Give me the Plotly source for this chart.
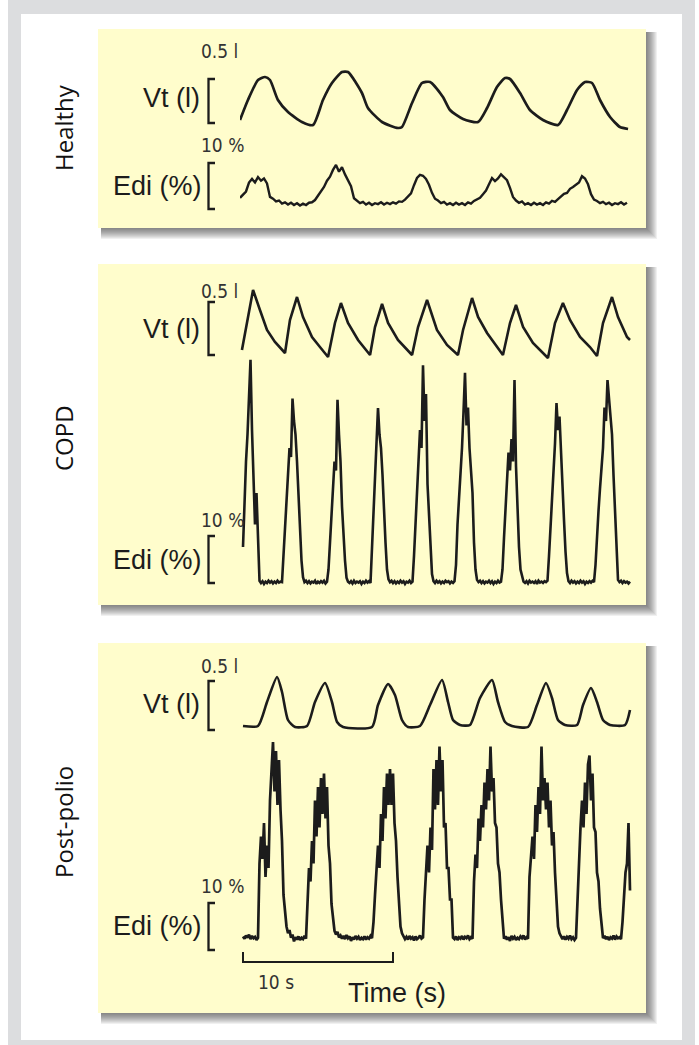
import numpy as np
import plotly.graph_objects as go

# ---------------- data (time in s, Vt in litres, Edi in %) ----------------
healthy_vt_t = [0.0, 0.53, 1.2, 1.67, 2.0, 2.53, 3.2, 4.13, 4.87, 5.53, 6.13, 6.8, 7.2, 8.13, 8.53,
                9.47, 10.53, 10.8, 11.47, 12.13, 12.67, 13.53, 14.0, 14.87, 15.87, 16.47, 17.13, 17.67,
                18.0, 18.67, 19.33, 20.2, 21.2, 21.8, 22.47, 23.0, 23.47, 24.0, 24.67, 25.33, 25.87]
healthy_vt_v = [0.10, 0.30, 0.50, 0.53, 0.50, 0.30, 0.18, 0.08, 0.05, 0.30, 0.47, 0.58, 0.58, 0.37, 0.22,
                0.08, 0.02, 0.03, 0.27, 0.47, 0.48, 0.33, 0.20, 0.11, 0.08, 0.22, 0.43, 0.52,
                0.51, 0.37, 0.20, 0.10, 0.05, 0.20, 0.40, 0.48, 0.47, 0.30, 0.13, 0.03, 0.01]

healthy_edi_t0, healthy_edi_dt = 0.0, 0.2
healthy_edi_v = [1.6, 2.2, 3.0, 5.0, 5.8, 5.0, 6.2, 5.4, 5.9, 4.8,
                 1.8, 1.4, 0.8, 1.0, 0.3, 0.6, 0.1, 0.5, 0.0, 0.4,
                 -0.1, 0.3, 0.0, 0.5, 0.6, 1.1, 2.0, 3.0, 4.0, 5.4,
                 6.3, 7.8, 8.9, 7.4, 8.4, 6.8, 5.6, 4.2, 1.5, 0.9,
                 0.4, 0.7, 0.1, 0.5, 0.0, 0.4, 0.2, 0.6, 0.1, 0.5,
                 0.2, 0.6, 0.3, 0.8, 0.7, 1.2, 1.8, 2.6, 4.4, 6.0,
                 6.7, 6.5, 5.8, 4.5, 2.7, 1.4, 1.0, 0.4, 0.7, 0.1,
                 0.4, 0.0, 0.5, 0.1, 0.4, 0.0, 0.6, 0.3, 0.9, 1.2,
                 1.6, 2.4, 3.2, 4.6, 6.0, 5.3, 5.9, 6.8, 6.2, 5.5,
                 3.8, 1.8, 1.0, 0.5, 0.8, 0.1, 0.4, 0.0, 0.5, 0.1,
                 0.4, 0.0, 0.6, 0.3, 0.9, 0.7, 1.3, 1.8, 2.5, 2.7,
                 3.6, 4.0, 4.6, 5.0, 6.4, 5.9, 4.6, 2.4, 1.2, 0.9,
                 0.4, 0.7, 0.2, 0.5, 0.0, 0.4, 0.2, 0.6, 0.1, 0.5]

copd_vt_t = [0.13, 0.87, 1.33, 1.8, 2.33, 3.0, 3.33, 3.8, 4.2, 4.8, 5.33, 5.87, 6.33, 6.73, 7.2,
             7.87, 8.67, 9.0, 9.47, 9.87, 10.53, 11.47, 11.87, 12.47, 13.13, 13.8, 14.53, 14.87,
             15.47, 15.87, 16.47, 17.13, 17.53, 18.0, 18.4, 18.87, 19.53, 20.53, 21.0, 21.53,
             22.0, 22.67, 23.33, 23.8, 24.2, 24.8, 25.2, 25.8, 26.0]
copd_vt_v = [0.08, 0.68, 0.48, 0.28, 0.16, 0.05, 0.38, 0.61, 0.41, 0.21, 0.11, 0.01, 0.35, 0.55, 0.35,
             0.18, 0.03, 0.31, 0.54, 0.35, 0.18, 0.03, 0.31, 0.58, 0.28, 0.13, 0.03, 0.28,
             0.60, 0.41, 0.25, 0.11, 0.03, 0.35, 0.53, 0.31, 0.15, 0.0, 0.35, 0.55,
             0.38, 0.21, 0.11, 0.02, 0.35, 0.61, 0.41, 0.21, 0.18]

copd_edi_t0, copd_edi_dt = 0.2, 0.1
copd_edi_v = [
    8, 20, 27, 33, 42, 49.6, 34, 22, 13, 20, 11, 0.5,
    0.0, 0.4, -0.2, 0.3, 0.0, 0.5, 0.1, 0.4, -0.1, 0.3, 0.0, 0.5, 0.1, 0.3, 0.2,
    6, 14, 19, 24, 30, 28, 41, 36, 33, 27, 19, 11, 5, 1.3, 0.2,
    0.5, 0.0, 0.4, -0.1, 0.3, 0.1, 0.5, -0.2, 0.3, 0.0, 0.4, 0.1, 0.5, -0.1, 0.3,
    3, 9, 15, 21, 27, 25, 40.7, 33, 27, 17, 10, 5, 1.2, 0.3,
    0.0, 0.4, -0.1, 0.5, 0.0, 0.3, 0.1, 0.4, -0.2, 0.3, 0.0, 0.5, 0.1, 0.4, 0.0,
    8, 16, 21, 28, 38.9, 33, 30, 24, 15, 9, 3, 0.8,
    0.2, 0.5, 0.0, 0.4, -0.1, 0.3, 0.0, 0.5, 0.1, 0.4, -0.2, 0.3, 0.1, 0.5, 0.0, 0.3,
    6, 13, 19, 26, 34, 30, 48.4, 36, 42, 22, 15, 7, 2, 0.4,
    0.0, 0.5, 0.1, 0.4, -0.1, 0.3, 0.0, 0.5, 0.2, 0.4, -0.1, 0.3, 0.0, 0.4,
    4, 13, 18, 25, 30, 38, 46.7, 35, 39, 30, 25, 20, 9, 3, 0.7, 0.2,
    0.5, 0.0, 0.4, -0.1, 0.3, 0.1, 0.5, 0.0, 0.4, -0.2, 0.3, 0.0, 0.5, 0.1, 0.3,
    3, 10, 16, 24, 29, 25, 32, 27, 45.1, 26, 14, 8, 3, 1.2, 0.3,
    0.0, 0.4, -0.1, 0.5, 0.1, 0.3, 0.0, 0.4, -0.2, 0.5, 0.1, 0.3, 0.0, 0.4, 0.2, 0.5,
    6, 12, 21, 27, 31, 40, 34, 37, 28, 21, 14, 7, 2.2, 0.4,
    0.0, 0.5, 0.1, 0.4, -0.1, 0.3, 0.0, 0.5, 0.1, 0.4, -0.2, 0.3, 0.0, 0.4, 0.1, 0.5, 0.2,
    4, 11, 16, 21, 26, 30, 39, 36, 45.1, 41, 37, 33, 24, 15, 6, 0.7,
    0.2, 0.5, 0.0, 0.4, 0.1, 0.3, -0.1, 0.3]

polio_vt_t = [0.2, 1.2, 1.8, 2.47, 2.8, 3.2, 3.67, 4.47, 5.0, 5.67, 6.13, 6.47, 6.87, 8.8, 9.2,
              9.87, 10.33, 10.8, 11.2, 12.0, 12.67, 13.47, 13.87, 14.2, 14.67, 15.33, 16.0, 16.8,
              17.2, 17.67, 18.13, 19.2, 19.8, 20.4, 20.8, 21.2, 21.67, 22.47, 22.87, 23.4, 23.8,
              24.2, 24.67, 25.67, 26.0]
polio_vt_v = [0.01, 0.01, 0.25, 0.50, 0.35, 0.07, 0.0, 0.01, 0.25, 0.44, 0.25, 0.05, 0.0, 0.0, 0.22,
              0.43, 0.32, 0.07, 0.0, 0.01, 0.22, 0.47, 0.25, 0.07, 0.02, 0.02, 0.29, 0.47,
              0.25, 0.05, 0.01, 0.0, 0.22, 0.44, 0.29, 0.07, 0.02, 0.02, 0.22, 0.39, 0.25,
              0.07, 0.02, 0.02, 0.17]

polio_edi_t0, polio_edi_dt = 0.2, 0.1
polio_edi_v = [
    0.8, 0.3, 1.0, 0.5, 1.2, 0.2, 0.9, 0.4, 0.7, 0.0, 0.5,
    17, 23, 18, 26, 14, 21, 16, 31, 38, 44, 33, 42, 30, 40, 29, 22, 10, 6, 3, 1.5, 2.2, 0.5, 1.2,
    -0.3, 0.6, 0.1, 0.8, 0.0, 0.5, 0.2, 0.9, 0.3,
    10, 16, 13, 22, 17, 31, 23, 34, 25, 36, 28, 37, 27, 34, 21, 17, 8, 4, 2, 1.2, 1.8, 0.6, 1.0, 0.3,
    0.9, 0.2, 1.1, 0.4, 0.8, -0.2, 0.6, 0.1, 0.9, 0.3, 0.7, 0.0, 0.5, 0.2, 0.8, 0.1, 0.6, 0.3, 0.9, 0.4,
    4, 10, 16, 21, 16, 28, 22, 34, 27, 37, 30, 38, 30, 37, 26, 22, 14, 7, 3, 1.5, 0.8, 0.2,
    0.7, 0.1, 0.9, 0.3, 0.6, -0.1, 0.8, 0.2, 0.5, 1.0, 0.3, 0.6,
    9, 15, 21, 15, 25, 20, 38, 29, 40, 30, 43, 33, 40, 25, 26, 16, 16, 9, 9, 0.5,
    0.2, 0.8, 0.0, 0.6, 0.3, 0.9, 0.1, 0.7, 0.4, 1.0, 0.2, 0.6, 0.3,
    13, 19, 16, 27, 22, 30, 25, 35, 29, 38, 31, 43, 33, 36, 26, 25, 17, 15, 9, 4, 0.3,
    0.8, 0.1, 0.6, -0.2, 0.9, 0.3, 0.7, 0.0, 0.5, 0.2, 0.8, 0.4, 1.0, 0.1, 0.6, 0.3,
    14, 19, 23, 18, 30, 24, 34, 28, 43, 31, 36, 29, 35, 25, 31, 21, 24, 15, 9, 3, 1.5, 0.7, 0.2,
    0.8, 0.1, 0.7, 0.3, 1.0, 0.2, 0.6, 0.0, 0.5,
    10, 20, 25, 31, 25, 35, 28, 39, 41, 31, 37, 25, 24, 15, 13, 7, 3, 0.4,
    0.9, 0.2, 0.7, 0.0, 0.6, 0.3, 1.0, 0.1, 0.8, 0.4, 0.6, 0.2,
    4, 9, 15, 17, 26, 11]

panel_names = ["Healthy", "COPD", "Post-polio"]
vt_label = "Vt (l)"
edi_label = "Edi (%)"
vt_scale_text = "0.5 l"
edi_scale_text = "10 %"
time_scale_text = "10 s"
time_title = "Time (s)"
TIME_BAR_S = 10

# ---------------- geometry (pixels) ----------------
W, H = 699, 1045
INK = "#1c1c1c"
YELLOW = "#FFFDCC"
FRAME = "#DCDDDF"


def X(px):
    return px / W


def Y(py):
    return 1 - py / H


T0_PX = 240
PX_PER_S = 15.0
VT_PPU = 100.0     # px per litre
EDI_PPU = 4.5      # px per %
T_MAX = 26.4

panel_boxes = [(98, 29, 646, 228), (98, 264, 646, 605), (98, 643, 646, 1013)]

# (base px of zero, top px, bottom px, px per unit)
yspecs = [
    (130, 50, 140, VT_PPU),
    (205, 150, 215, EDI_PPU),
    (358, 275, 365, VT_PPU),
    (583, 335, 592, EDI_PPU),
    (727, 655, 735, VT_PPU),
    (940, 720, 950, EDI_PPU),
]


def grid(t0, dt, vals):
    return list(t0 + dt * np.arange(len(vals)))


series = [
    (healthy_vt_t, healthy_vt_v, "spline", 2.7),
    (grid(healthy_edi_t0, healthy_edi_dt, healthy_edi_v), healthy_edi_v, "linear", 2.4),
    (copd_vt_t, copd_vt_v, "linear", 2.6),
    (grid(copd_edi_t0, copd_edi_dt, copd_edi_v), copd_edi_v, "linear", 2.6),
    (polio_vt_t, polio_vt_v, "spline", 2.6),
    (grid(polio_edi_t0, polio_edi_dt, polio_edi_v), polio_edi_v, "linear", 2.7),
]

fig = go.Figure()
layout_axes = {}
layout_axes["xaxis"] = dict(domain=[X(T0_PX), X(T0_PX + PX_PER_S * T_MAX)], range=[0, T_MAX],
                            visible=False, fixedrange=True)
for i, ((base, top, bot, ppu), (tt, vv, shape, lw)) in enumerate(zip(yspecs, series)):
    name = "yaxis" if i == 0 else f"yaxis{i + 1}"
    ref = "y" if i == 0 else f"y{i + 1}"
    layout_axes[name] = dict(domain=[Y(bot), Y(top)], range=[(base - bot) / ppu, (base - top) / ppu],
                             visible=False, anchor="x", fixedrange=True)
    line = dict(color=INK, width=lw, shape=shape)
    if shape == "spline":
        line["smoothing"] = 0.6
    fig.add_trace(go.Scatter(x=tt, y=vv, mode="lines", line=line, xaxis="x", yaxis=ref,
                             hoverinfo="skip", showlegend=False))

shapes = []
# outer frame
shapes.append(dict(type="rect", xref="paper", yref="paper", x0=X(8), x1=X(695), y0=Y(1050), y1=Y(0),
                   fillcolor=FRAME, line=dict(width=0), layer="below"))
shapes.append(dict(type="rect", xref="paper", yref="paper", x0=X(21), x1=X(682), y0=Y(1040), y1=Y(14),
                   fillcolor="white", line=dict(width=0), layer="below"))
# panels with soft shadow
for (x0, y0, x1, y1) in panel_boxes:
    for k in range(1, 12):
        shapes.append(dict(type="rect", xref="paper", yref="paper", x0=X(x0 + 3), x1=X(x1 + k),
                           y0=Y(y1 + k), y1=Y(y0 + 3), fillcolor="rgba(50,50,50,0.075)",
                           line=dict(width=0), layer="below"))
    shapes.append(dict(type="rect", xref="paper", yref="paper", x0=X(x0), x1=X(x1), y0=Y(y1), y1=Y(y0),
                       fillcolor=YELLOW, line=dict(width=0), layer="below"))

# calibration brackets (top px, bottom px)
brackets = [(79, 123), (163, 209), (302, 355), (536, 583), (681, 730), (903, 950)]
for (bt, bb) in brackets:
    path = f"M {X(215)},{Y(bt)} L {X(208.5)},{Y(bt)} L {X(208.5)},{Y(bb)} L {X(215)},{Y(bb)}"
    shapes.append(dict(type="path", xref="paper", yref="paper", path=path,
                       line=dict(color=INK, width=2.3), layer="above"))

# time scale bar (drawn in seconds on the shared time axis)
bar_t0 = 0.2
shapes.append(dict(type="path", xref="x", yref="paper",
                   path=f"M {bar_t0},{Y(952)} L {bar_t0},{Y(962)} L {bar_t0 + TIME_BAR_S},{Y(962)} "
                        f"L {bar_t0 + TIME_BAR_S},{Y(952)}",
                   line=dict(color=INK, width=2), layer="above"))

ann = []
MAIN_FONT = "Liberation Sans, Arial, sans-serif"
NARROW_FONT = "Liberation Sans Narrow, DejaVu Sans Condensed, Liberation Sans, sans-serif"
row_label_y = [128, 438, 822]
for name, yy in zip(panel_names, row_label_y):
    ann.append(dict(x=X(63), y=Y(yy), xref="paper", yref="paper", text=name, textangle=-90,
                    showarrow=False, font=dict(family="Open Sans, sans-serif", size=24, color="#111111"),
                    xanchor="center", yanchor="middle"))

vt_label_y = [98, 329, 704]
edi_label_y = [186, 560, 926]
vt_scale_y = [51, 291, 666]
edi_scale_y = [145, 520, 886]
for yy in vt_label_y:
    ann.append(dict(x=X(202), y=Y(yy), xref="paper", yref="paper", text=vt_label, showarrow=False,
                    font=dict(family=MAIN_FONT, size=27, color=INK), xanchor="right", yanchor="middle"))
for yy in edi_label_y:
    ann.append(dict(x=X(204), y=Y(yy), xref="paper", yref="paper", text=edi_label, showarrow=False,
                    font=dict(family=MAIN_FONT, size=27, color=INK), xanchor="right", yanchor="middle"))
for yy in vt_scale_y:
    ann.append(dict(x=X(199), y=Y(yy), xref="paper", yref="paper", text=vt_scale_text, showarrow=False,
                    font=dict(family=NARROW_FONT, size=19, color="#333333"), xanchor="left", yanchor="middle"))
for yy in edi_scale_y:
    ann.append(dict(x=X(199), y=Y(yy), xref="paper", yref="paper", text=edi_scale_text, showarrow=False,
                    font=dict(family=NARROW_FONT, size=19, color="#333333"), xanchor="left", yanchor="middle"))

ann.append(dict(x=X(276), y=Y(982), xref="paper", yref="paper", text=time_scale_text, showarrow=False,
                font=dict(family=NARROW_FONT, size=19, color="#333333"), xanchor="center", yanchor="middle"))
ann.append(dict(x=X(397), y=Y(993), xref="paper", yref="paper", text=time_title, showarrow=False,
                font=dict(family=MAIN_FONT, size=27, color=INK), xanchor="center", yanchor="middle"))

fig.update_layout(width=W, height=H, margin=dict(l=0, r=0, t=0, b=0), paper_bgcolor="white",
                  plot_bgcolor="rgba(0,0,0,0)", shapes=shapes, annotations=ann, showlegend=False,
                  **layout_axes)

fig.write_html("out.html", config={"displayModeBar": False},
               post_script="document.body.style.margin='0px';document.body.style.overflow='hidden';")
